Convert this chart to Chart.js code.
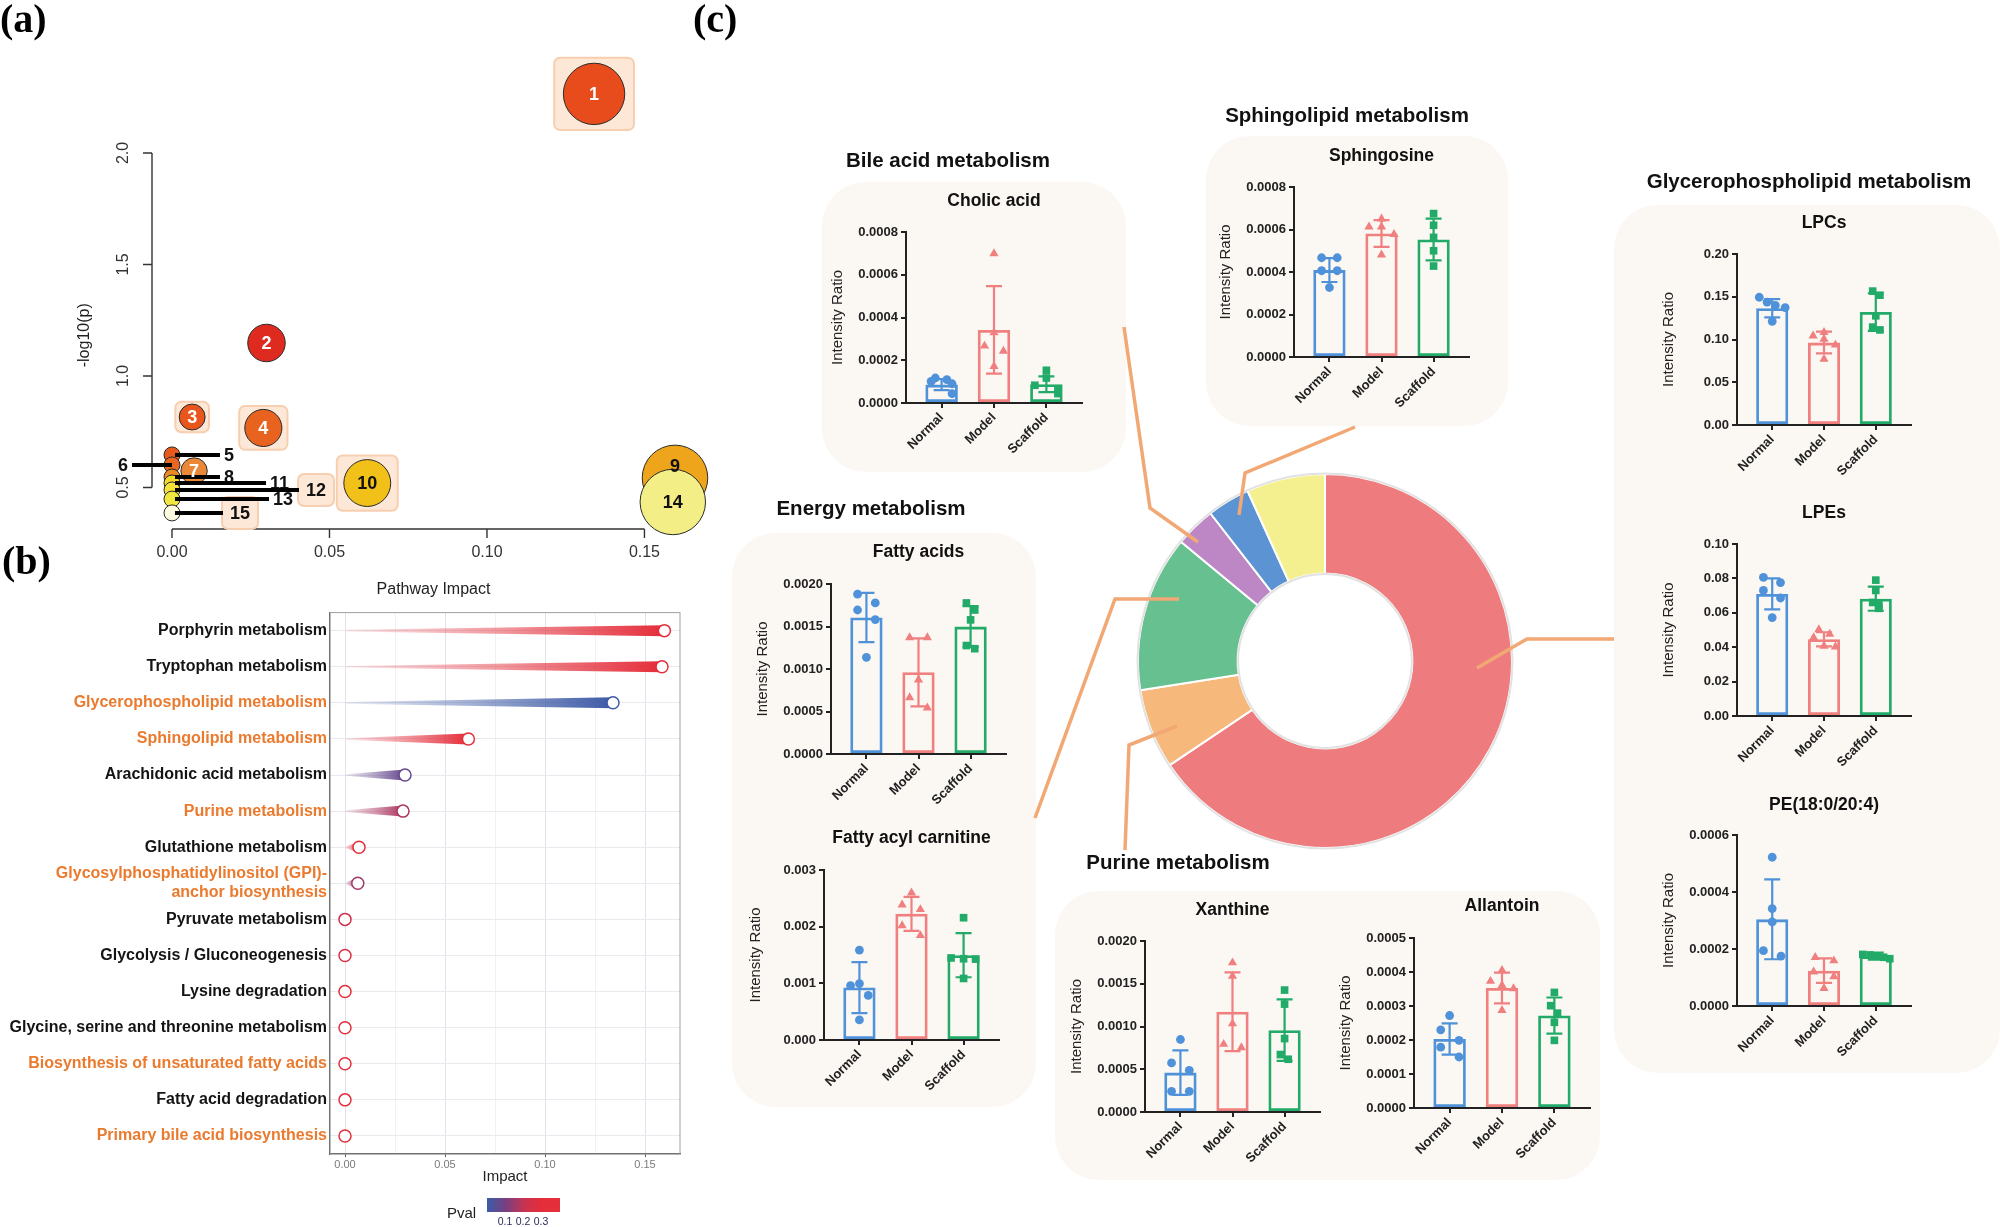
<!DOCTYPE html>
<html>
<head>
<meta charset="utf-8">
<title>Pathway analysis</title>
<script src="https://cdn.jsdelivr.net/npm/chart.js@4.4.1/dist/chart.umd.min.js"></script>
<style>
  html, body { margin: 0; padding: 0; background: #fff; }
  #fig { position: relative; width: 2000px; height: 1227px; overflow: hidden; font-family: 'Liberation Sans', Arial, sans-serif; }
  .box { position: absolute; background: #fbf7f2; border-radius: 44px; z-index: 0; }
  .sec { position: absolute; transform: translate(-50%, -50%); font-weight: bold; font-size: 20.5px; color: #111; white-space: nowrap; z-index: 3; }
  .tag { position: absolute; font-family: 'Liberation Serif', 'Times New Roman', serif; font-weight: bold; font-size: 40px; line-height: 1; z-index: 3; }
  canvas { position: absolute; z-index: 1; }
  #links { position: absolute; left: 0; top: 0; z-index: 2; pointer-events: none; }
  .leg { position: absolute; z-index: 3; color: #222; white-space: nowrap; }
</style>
</head>
<body>
<div id="fig">
  <div class="tag" style="left:0;top:-1px">(a)</div>
  <div class="tag" style="left:2px;top:541px">(b)</div>
  <div class="tag" style="left:693px;top:-1px">(c)</div>

  <div class="box" style="left:822px;top:182px;width:304px;height:290px"></div>
  <div class="box" style="left:1206px;top:136px;width:302px;height:290px"></div>
  <div class="box" style="left:732px;top:533px;width:304px;height:574px"></div>
  <div class="box" style="left:1055px;top:891px;width:545px;height:289px"></div>
  <div class="box" style="left:1614px;top:205px;width:386px;height:868px"></div>

  <div class="sec" style="left:948px;top:160px">Bile acid metabolism</div>
  <div class="sec" style="left:1347px;top:115px">Sphingolipid metabolism</div>
  <div class="sec" style="left:871px;top:508px">Energy metabolism</div>
  <div class="sec" style="left:1178px;top:862px">Purine metabolism</div>
  <div class="sec" style="left:1809px;top:181px">Glycerophospholipid metabolism</div>

  <svg id="links" width="2000" height="1227">
    <g fill="none" stroke="#f2a874" stroke-width="3.5">
      <polyline points="1477,668 1527,639 1614,639"/>
      <polyline points="1179,599 1115,599 1035,818"/>
      <polyline points="1177,726 1129,745 1125,850"/>
      <polyline points="1198,542 1150,508 1124,327"/>
      <polyline points="1239,515 1245,473 1355,427"/>
    </g>
  </svg>

  <div class="leg" style="left:447px;top:1204px;font-size:15px">Pval</div>
  <div id="pbar" class="leg" style="left:487px;top:1198px;width:73px;height:14px"></div>
  <div class="leg" style="left:505px;top:1215px;font-size:10.5px;color:#2c2c5a;transform:translateX(-50%)">0.1</div>
  <div class="leg" style="left:523px;top:1215px;font-size:10.5px;color:#2c2c5a;transform:translateX(-50%)">0.2</div>
  <div class="leg" style="left:541px;top:1215px;font-size:10.5px;color:#2c2c5a;transform:translateX(-50%)">0.3</div>
</div>

<script>
// ---------- panel (a): pathway topology, numbered bubbles ----------
const A_IDS = [1, 2, 3, 4, 5, 6, 7, 8, 9, 10, 11, 12, 13, 14, 15];
const A_IMPACT = [0.134, 0.030, 0.0064, 0.029, 0, 0, 0.007, 0, 0.1597, 0.062, 0, 0, 0, 0.159, 0];
const A_LOGP = [2.265, 1.148, 0.816, 0.767, 0.646, 0.601, 0.574, 0.547, 0.543, 0.520, 0.520, 0.489, 0.448, 0.435, 0.386];
const A_XTICKS = [0, 0.05, 0.10, 0.15];
const A_YTICKS = [0.5, 1.0, 1.5, 2.0];

// ---------- panel (b): impact lollipops ----------
const B_PATHWAYS = [
  'Porphyrin metabolism', 'Tryptophan metabolism', 'Glycerophospholipid metabolism',
  'Sphingolipid metabolism', 'Arachidonic acid metabolism', 'Purine metabolism',
  'Glutathione metabolism', ['Glycosylphosphatidylinositol (GPI)-', 'anchor biosynthesis'],
  'Pyruvate metabolism', 'Glycolysis / Gluconeogenesis', 'Lysine degradation',
  'Glycine, serine and threonine metabolism', 'Biosynthesis of unsaturated fatty acids',
  'Fatty acid degradation', 'Primary bile acid biosynthesis'
];
const B_IMPACT = [0.1597, 0.1585, 0.134, 0.0617, 0.030, 0.029, 0.007, 0.0064, 0, 0, 0, 0, 0, 0, 0];
const B_PVAL = [0.286, 0.367, 0.0054, 0.30, 0.071, 0.17, 0.27, 0.153, 0.226, 0.25, 0.284, 0.30, 0.324, 0.356, 0.41];
const B_XTICKS = [0, 0.025, 0.05, 0.075, 0.10, 0.125, 0.15];
const B_ORANGE = ['Glycerophospholipid metabolism', 'Sphingolipid metabolism', 'Purine metabolism',
  'Glycosylphosphatidylinositol (GPI)- anchor biosynthesis', 'Biosynthesis of unsaturated fatty acids',
  'Primary bile acid biosynthesis'];

// ---------- panel (c): class share donut ----------
const C_CLASSES = ['Glycerophospholipid metabolism', 'Purine metabolism', 'Energy metabolism',
  'Bile acid metabolism', 'Sphingolipid metabolism', 'Others'];
const C_SHARE = [65.6, 6.9, 13.5, 3.5, 3.7, 6.8];

// ---------- panel (c): metabolite bar charts (mean, SD, individual samples) ----------
const GROUPS = ['Normal', 'Model', 'Scaffold'];

const CHOLIC_MEAN = [0.000086, 0.000342, 0.000088];
const CHOLIC_SD = [0.000026, 0.000205, 0.000037];
const CHOLIC_PTS = [[0.000117, 0.000109, 0.000101, 0.000090, 0.000044],
                    [0.000699, 0.000329, 0.000267, 0.000243, 0.000172],
                    [0.000153, 0.000117, 0.000083, 0.000062, 0.000044]];
const CHOLIC_JIT = [[-0.12, 0.1, -0.2, 0.2, 0.2], [0, 0, -0.18, 0.18, 0], [0, 0, -0.22, 0.22, 0.22]];

const SPHING_MEAN = [0.000409, 0.000581, 0.000553];
const SPHING_SD = [0.000056, 0.000063, 0.000098];
const SPHING_PTS = [[0.000467, 0.000467, 0.000406, 0.000406, 0.000327],
                    [0.00065, 0.000613, 0.000613, 0.000577, 0.000481],
                    [0.000675, 0.00062, 0.000563, 0.0005, 0.000428]];
const SPHING_JIT = [[-0.15, 0.15, -0.15, 0.15, 0], [0, -0.24, 0, 0.24, 0], [0, 0, 0, 0, 0]];

const FA_MEAN = [0.001606, 0.000961, 0.001499];
const FA_SD = [0.00029, 0.00040, 0.00024];
const FA_PTS = [[0.00188, 0.001777, 0.001694, 0.001582, 0.001137],
                [0.001369, 0.001369, 0.000872, 0.000664, 0.000543],
                [0.001777, 0.001694, 0.001578, 0.001276, 0.001239]];
const FA_JIT = [[-0.17, 0.17, -0.17, 0.17, 0], [-0.17, 0.17, 0, -0.17, 0.17], [-0.08, 0.08, 0, -0.08, 0.08]];

const FAC_MEAN = [0.000926, 0.002227, 0.001497];
const FAC_SD = [0.00045, 0.00030, 0.00039];
const FAC_PTS = [[0.001587, 0.00096, 0.000995, 0.000787, 0.000355],
                 [0.002596, 0.002387, 0.002304, 0.002019, 0.001845],
                 [0.002158, 0.001448, 0.001434, 0.001427, 0.001086]];
const FAC_JIT = [[0, -0.17, 0, 0.17, 0], [0, -0.18, 0.17, -0.18, 0.17], [0, -0.24, 0, 0.23, 0]];

const XAN_MEAN = [0.000461, 0.001172, 0.000957];
const XAN_SD = [0.00026, 0.00046, 0.00036];
const XAN_PTS = [[0.000848, 0.000574, 0.000488, 0.000242, 0.000242],
                 [0.001746, 0.00159, 0.001035, 0.000793, 0.000754],
                 [0.001426, 0.001262, 0.000859, 0.000672, 0.000617]];
const XAN_JIT = [[0, -0.17, 0.17, -0.17, 0.17], [0, 0, 0, -0.17, 0.17], [0, 0, 0, -0.08, 0.07]];

const ALL_MEAN = [0.000203, 0.000353, 0.000272];
const ALL_SD = [0.000046, 0.000045, 0.000053];
const ALL_PTS = [[0.000272, 0.00023, 0.000199, 0.000179, 0.00015],
                 [0.000405, 0.000373, 0.000361, 0.000351, 0.000287],
                 [0.00034, 0.000301, 0.000279, 0.000252, 0.000199]];
const ALL_JIT = [[0, -0.17, 0.18, -0.17, 0.18], [0, -0.22, 0, 0.22, 0], [0, -0.07, 0.06, 0, 0]];

const LPC_MEAN = [0.1365, 0.0964, 0.1321];
const LPC_SD = [0.0107, 0.0127, 0.0220];
const LPC_PTS = [[0.1494, 0.1438, 0.1398, 0.1373, 0.1213],
                 [0.1084, 0.1044, 0.1004, 0.0936, 0.0771],
                 [0.1566, 0.1518, 0.1277, 0.1145, 0.1112]];
const LPC_JIT = [[-0.25, -0.1, 0.06, 0.25, 0], [0, -0.21, 0, 0.22, 0], [-0.06, 0.08, 0, -0.06, 0.08]];

const LPE_MEAN = [0.071, 0.0446, 0.0682];
const LPE_SD = [0.009, 0.0041, 0.007];
const LPE_PTS = [[0.0806, 0.0776, 0.073, 0.0686, 0.0572],
                 [0.0502, 0.0476, 0.0456, 0.0406, 0.0402],
                 [0.079, 0.073, 0.066, 0.0646, 0.0626]];
const LPE_JIT = [[-0.17, 0.16, -0.17, 0.16, 0], [-0.1, 0.11, -0.2, 0, 0.22], [0, 0, -0.06, 0.06, 0.06]];

const PE_MEAN = [0.000304, 0.000124, 0.000175];
const PE_SD = [0.00014, 0.000043, 0.000012];
const PE_PTS = [[0.000522, 0.000342, 0.000295, 0.000194, 0.000175],
                [0.000171, 0.000159, 0.00012, 0.000103, 0.000062],
                [0.000181, 0.000179, 0.000175, 0.000171, 0.000166]];
const PE_JIT = [[0, 0, 0, -0.17, 0.17], [-0.17, 0.19, -0.2, 0.19, 0], [-0.25, -0.11, 0.02, 0.15, 0.27]];

// ---------- styles ----------
const A_FILL = ['#e84c1c', '#df2a20', '#e8561e', '#e8631f', '#e75a1e', '#e8681f', '#eb8838', '#ec8a24',
  '#eea51c', '#f1c11a', '#f4d92a', '#f4e33a', '#efe63e', '#f3ee86', '#fdfae0'];
const A_INSIDE = { 1: '#fff', 2: '#fff', 3: '#fff', 4: '#fff', 7: '#fff', 9: '#111', 10: '#111', 14: '#111' };
const A_INSIDE_DY = { 9: -12 };
const A_BOXED = [1, 3, 4, 10];
const A_LEADER = { 5: 48, 6: -40, 8: 48, 11: 94, 12: 127, 13: 97, 15: 51 };
const A_LEADER_BOXED = [12, 15];

const P_STOPS = [[0, [58, 92, 168]], [0.1, [118, 64, 130]], [0.2, [196, 52, 84]], [0.28, [228, 46, 58]]];
const C_COLORS = ['#ee7b7d', '#f6b87b', '#66c08f', '#bd87c6', '#5b93d3', '#f5f08f'];
const GROUP_COLORS = ['#4f92d9', '#f07f80', '#22ab68'];
const GROUP_SHAPES = ['circle', 'triangle', 'rect'];
const GROUP_RADIUS = [4.4, 5.3, 5.4];

Chart.defaults.font.family = "'Liberation Sans', Arial, sans-serif";
Chart.defaults.color = '#222';

function pvalColor(p, a) {
  let c = P_STOPS[P_STOPS.length - 1][1];
  for (let i = 0; i < P_STOPS.length - 1; i++) {
    const [p0, c0] = P_STOPS[i], [p1, c1] = P_STOPS[i + 1];
    if (p <= p1) {
      const t = Math.max(0, (p - p0) / (p1 - p0));
      c = c0.map((v, k) => Math.round(v + (c1[k] - v) * t));
      break;
    }
  }
  return `rgba(${c[0]},${c[1]},${c[2]},${a})`;
}

function addCanvas(left, top, w, h) {
  const cv = document.createElement('canvas');
  cv.width = w; cv.height = h;
  cv.style.left = left + 'px'; cv.style.top = top + 'px';
  cv.style.width = w + 'px'; cv.style.height = h + 'px';
  document.getElementById('fig').appendChild(cv);
  return cv;
}

function roundRect(ctx, x, y, w, h, r) {
  ctx.beginPath();
  ctx.moveTo(x + r, y);
  ctx.arcTo(x + w, y, x + w, y + h, r);
  ctx.arcTo(x + w, y + h, x, y + h, r);
  ctx.arcTo(x, y + h, x, y, r);
  ctx.arcTo(x, y, x + w, y, r);
  ctx.closePath();
}

// keep the plot area where the axis sizes put it
function noSidePadding(s) { s.paddingLeft = 0; s.paddingRight = 0; }

const noInteract = { responsive: false, animation: false, events: [] };

// ---------- panel (a) ----------
// R-style axes: the lines only span the first to last tick
const rAxis = {
  id: 'rAxis',
  beforeDatasetsDraw(chart) {
    const { ctx, chartArea: ca, scales: { x, y } } = chart;
    const xs = x.ticks.map(t => x.getPixelForValue(t.value));
    const ys = y.ticks.map(t => y.getPixelForValue(t.value));
    ctx.save();
    ctx.strokeStyle = '#333';
    ctx.lineWidth = 1.4;
    ctx.beginPath();
    ctx.moveTo(xs[0], ca.bottom); ctx.lineTo(xs[xs.length - 1], ca.bottom);
    xs.forEach(p => { ctx.moveTo(p, ca.bottom); ctx.lineTo(p, ca.bottom + 9); });
    ctx.moveTo(ca.left, ys[0]); ctx.lineTo(ca.left, ys[ys.length - 1]);
    ys.forEach(p => { ctx.moveTo(ca.left, p); ctx.lineTo(ca.left - 9, p); });
    ctx.stroke();
    // y axis title, centred on the tick span like R does
    ctx.translate(85, (ys[0] + ys[ys.length - 1]) / 2 + 15);
    ctx.rotate(-Math.PI / 2);
    ctx.fillStyle = '#222';
    ctx.font = "16px 'Liberation Sans', Arial, sans-serif";
    ctx.textAlign = 'center';
    ctx.textBaseline = 'middle';
    ctx.fillText('-log10(p)', 0, 0);
    ctx.restore();
  }
};

const bubbleLabels = {
  id: 'bubbleLabels',
  beforeDatasetsDraw(chart) {
    const { ctx } = chart;
    const pts = chart.getDatasetMeta(0).data;
    ctx.save();
    ctx.fillStyle = '#fde7d6';
    ctx.strokeStyle = '#f7cfb0';
    ctx.lineWidth = 2;
    A_BOXED.forEach(id => {
      const p = pts[id - 1], r = p.options.radius;
      roundRect(ctx, p.x - 1.3 * r, p.y - 1.18 * r, 2.6 * r, 2.36 * r, 6);
      ctx.fill(); ctx.stroke();
    });
    ctx.font = "bold 18px 'Liberation Sans', Arial, sans-serif";
    A_LEADER_BOXED.forEach(id => {
      const p = pts[id - 1], len = A_LEADER[id];
      const w = ctx.measureText(String(id)).width + 16;
      roundRect(ctx, p.x + len - 1, p.y - 16, w, 32, 6);
      ctx.fill(); ctx.stroke();
    });
    ctx.restore();
  },
  afterDatasetsDraw(chart) {
    const { ctx } = chart;
    const pts = chart.getDatasetMeta(0).data;
    ctx.save();
    ctx.font = "bold 18px 'Liberation Sans', Arial, sans-serif";
    ctx.textBaseline = 'middle';
    ctx.strokeStyle = '#000';
    ctx.lineWidth = 4;
    Object.keys(A_LEADER).forEach(k => {
      const id = +k, p = pts[id - 1], len = A_LEADER[id];
      ctx.beginPath();
      if (len > 0) { ctx.moveTo(p.x + 3, p.y); ctx.lineTo(p.x + len, p.y); }
      else { ctx.moveTo(p.x + len, p.y); ctx.lineTo(p.x, p.y); }
      ctx.stroke();
      ctx.fillStyle = '#111';
      ctx.textAlign = len > 0 ? 'left' : 'right';
      const off = A_LEADER_BOXED.includes(id) ? 7 : 4;
      ctx.fillText(String(id), p.x + len + (len > 0 ? off : -off), p.y + 1);
    });
    ctx.textAlign = 'center';
    Object.keys(A_INSIDE).forEach(k => {
      const id = +k, p = pts[id - 1];
      ctx.fillStyle = A_INSIDE[id];
      ctx.fillText(String(id), p.x, p.y + 1 + (A_INSIDE_DY[id] || 0));
    });
    ctx.restore();
  }
};

new Chart(addCanvas(0, 0, 720, 600), {
  type: 'scatter',
  data: {
    labels: A_IDS,
    datasets: [{
      data: A_IMPACT.map((v, i) => ({ x: v, y: A_LOGP[i] })),
      pointRadius: ctx => 8 + 62 * Math.sqrt(A_IMPACT[ctx.dataIndex]),
      pointBackgroundColor: A_FILL,
      pointBorderColor: '#2a2a2a',
      pointBorderWidth: 1,
      clip: false
    }]
  },
  options: {
    ...noInteract,
    layout: { autoPadding: false, padding: { top: 40, right: 5 } },
    plugins: { legend: { display: false }, tooltip: { enabled: false } },
    scales: {
      x: {
        type: 'linear', min: -0.00635, max: 0.1724,
        afterBuildTicks: s => { s.ticks = A_XTICKS.map(v => ({ value: v })); },
        afterFit: s => { s.height = 71; noSidePadding(s); },
        grid: { display: false, drawTicks: false },
        border: { display: false },
        ticks: { callback: v => v.toFixed(2), font: { size: 16 }, color: '#333', padding: 14, maxRotation: 0, autoSkip: false },
        title: { display: true, text: 'Pathway Impact', font: { size: 16 }, color: '#222', padding: { top: 0, bottom: 1 } }
      },
      y: {
        type: 'linear', min: 0.3139, max: 2.5067,
        afterBuildTicks: s => { s.ticks = A_YTICKS.map(v => ({ value: v })); },
        afterFit: s => { s.width = 152; },
        grid: { display: false, drawTicks: false },
        border: { display: false },
        ticks: { callback: v => v.toFixed(1), font: { size: 16 }, color: '#333', padding: 17,
                 minRotation: 90, maxRotation: 90, crossAlign: 'center', autoSkip: false }
      }
    }
  },
  plugins: [rAxis, bubbleLabels]
});

// ---------- panel (b) ----------
const comet = {
  id: 'comet',
  beforeDatasetsDraw(chart) {
    const { ctx } = chart;
    ctx.save();
    chart.getDatasetMeta(0).data.forEach((bar, i) => {
      const x0 = bar.base, x1 = bar.x, y = bar.y;
      if (x1 - x0 < 1) return;
      const g = ctx.createLinearGradient(x0, 0, x1, 0);
      g.addColorStop(0, pvalColor(B_PVAL[i], 0.1));
      g.addColorStop(0.5, pvalColor(B_PVAL[i], 0.5));
      g.addColorStop(1, pvalColor(B_PVAL[i], 1));
      ctx.fillStyle = g;
      ctx.beginPath();
      ctx.moveTo(x0, y - 0.8); ctx.lineTo(x1, y - 5.5);
      ctx.lineTo(x1, y + 5.5); ctx.lineTo(x0, y + 0.8);
      ctx.closePath();
      ctx.fill();
    });
    ctx.restore();
  }
};

const frame = {
  id: 'frame',
  beforeDatasetsDraw(chart) {
    const { ctx, chartArea: a } = chart;
    ctx.save();
    ctx.strokeStyle = '#a0a0a0';
    ctx.lineWidth = 1;
    ctx.strokeRect(a.left, a.top, a.right - a.left, a.bottom - a.top);
    ctx.restore();
  }
};

const labelText = i => [].concat(B_PATHWAYS[i]).join(' ');

new Chart(addCanvas(0, 600, 700, 627), {
  type: 'bar',
  data: {
    labels: B_PATHWAYS,
    datasets: [
      { data: B_IMPACT, backgroundColor: 'rgba(0,0,0,0)', borderWidth: 0, barThickness: 10, order: 2 },
      { type: 'line', indexAxis: 'y', data: B_IMPACT, showLine: false, pointRadius: 6,
        pointBackgroundColor: '#fff', pointBorderColor: B_PVAL.map(p => pvalColor(p, 1)),
        pointBorderWidth: 1.5, order: 1, clip: false }
    ]
  },
  options: {
    ...noInteract,
    indexAxis: 'y',
    layout: { autoPadding: false, padding: { top: 12, right: 20 } },
    plugins: { legend: { display: false }, tooltip: { enabled: false } },
    scales: {
      x: {
        type: 'linear', min: -0.0075, max: 0.1675,
        afterBuildTicks: s => { s.ticks = B_XTICKS.map(v => ({ value: v })); },
        afterFit: s => { s.height = 73; noSidePadding(s); },
        grid: { color: c => c.index % 2 ? '#f0f0f5' : '#e2e2ea', tickColor: c => c.index % 2 ? 'rgba(0,0,0,0)' : '#555', tickLength: 3 },
        border: { color: '#444', width: 1.2 },
        ticks: { callback: (v, i) => i % 2 ? '' : v.toFixed(2), font: { size: 11 }, color: '#7a7a7a', padding: 1, maxRotation: 0, autoSkip: false },
        title: { display: true, text: 'Impact', font: { size: 15 }, color: '#222', padding: { top: 0, bottom: 41 } }
      },
      y: {
        afterFit: s => { s.width = 330; },
        grid: { offset: false, color: '#e9e9ef', drawTicks: false },
        border: { color: '#444', width: 1.2 },
        ticks: { font: { size: 16, weight: 'bold' }, padding: 3, autoSkip: false,
                 color: c => B_ORANGE.includes(labelText(c.index)) ? '#ea7a2e' : '#141414' }
      }
    }
  },
  plugins: [frame, comet]
});

document.getElementById('pbar').style.background =
  'linear-gradient(to right,' + [0, 0.05, 0.1, 0.15, 0.2, 0.25, 0.3, 0.35, 0.4].map(p => pvalColor(p, 1)).join(',') + ')';

// ---------- panel (c): donut ----------
const ringOutline = {
  id: 'ringOutline',
  afterDatasetsDraw(chart) {
    const { ctx } = chart;
    const arc = chart.getDatasetMeta(0).data[0];
    ctx.save();
    ctx.strokeStyle = '#e2e2e2';
    ctx.lineWidth = 2;
    ctx.beginPath(); ctx.arc(arc.x, arc.y, arc.outerRadius + 0.5, 0, Math.PI * 2); ctx.stroke();
    ctx.beginPath(); ctx.arc(arc.x, arc.y, arc.innerRadius - 0.5, 0, Math.PI * 2); ctx.stroke();
    ctx.restore();
  }
};

new Chart(addCanvas(1125, 461, 400, 400), {
  type: 'doughnut',
  data: {
    labels: C_CLASSES,
    datasets: [{ data: C_SHARE, backgroundColor: C_COLORS, borderColor: '#fff', borderWidth: 2,
                 radius: 187, cutout: 93, hoverOffset: 0 }]
  },
  options: { ...noInteract, plugins: { legend: { display: false }, tooltip: { enabled: false } } },
  plugins: [ringOutline]
});

// ---------- panel (c): bar charts ----------
const SUBCHARTS = [
  { title: 'Cholic acid', mean: CHOLIC_MEAN, sd: CHOLIC_SD, pts: CHOLIC_PTS, jit: CHOLIC_JIT, max: 0.0008, step: 0.0002, dec: 4, ax: 906, top: 232, right: 1082, bottom: 403, ty: 203 },
  { title: 'Sphingosine', mean: SPHING_MEAN, sd: SPHING_SD, pts: SPHING_PTS, jit: SPHING_JIT, max: 0.0008, step: 0.0002, dec: 4, ax: 1294, top: 187, right: 1469, bottom: 357, ty: 158 },
  { title: 'Fatty acids', mean: FA_MEAN, sd: FA_SD, pts: FA_PTS, jit: FA_JIT, max: 0.002, step: 0.0005, dec: 4, ax: 831, top: 584, right: 1006, bottom: 754, ty: 554 },
  { title: 'Fatty acyl carnitine', mean: FAC_MEAN, sd: FAC_SD, pts: FAC_PTS, jit: FAC_JIT, max: 0.003, step: 0.001, dec: 3, ax: 824, top: 870, right: 999, bottom: 1040, ty: 840 },
  { title: 'Xanthine', mean: XAN_MEAN, sd: XAN_SD, pts: XAN_PTS, jit: XAN_JIT, max: 0.002, step: 0.0005, dec: 4, ax: 1145, top: 941, right: 1320, bottom: 1112, ty: 912 },
  { title: 'Allantoin', mean: ALL_MEAN, sd: ALL_SD, pts: ALL_PTS, jit: ALL_JIT, max: 0.0005, step: 0.0001, dec: 4, ax: 1414, top: 938, right: 1590, bottom: 1108, ty: 908 },
  { title: 'LPCs', mean: LPC_MEAN, sd: LPC_SD, pts: LPC_PTS, jit: LPC_JIT, max: 0.2, step: 0.05, dec: 2, ax: 1737, top: 254, right: 1911, bottom: 425, ty: 225 },
  { title: 'LPEs', mean: LPE_MEAN, sd: LPE_SD, pts: LPE_PTS, jit: LPE_JIT, max: 0.1, step: 0.02, dec: 2, ax: 1737, top: 544, right: 1911, bottom: 716, ty: 515 },
  { title: 'PE(18:0/20:4)', mean: PE_MEAN, sd: PE_SD, pts: PE_PTS, jit: PE_JIT, max: 0.0006, step: 0.0002, dec: 4, ax: 1737, top: 835, right: 1911, bottom: 1006, ty: 807 }
];

function barChart(c) {
  const left = c.ax - 84, top = c.ty - 12;
  const w = c.right - c.ax + 90, h = c.bottom - top + 64;
  const titleFont = 17.5, titleLH = titleFont * 1.2;

  const datasets = [{
    type: 'bar',
    data: c.mean.map((m, i) => ({ x: i, y: m })),
    backgroundColor: 'rgba(0,0,0,0)',
    borderColor: GROUP_COLORS,
    borderWidth: 2.8,
    borderSkipped: false,
    barPercentage: 0.62,
    categoryPercentage: 1,
    order: 2
  }];
  c.pts.forEach((arr, g) => datasets.push({
    type: 'scatter',
    data: arr.map((v, k) => ({ x: g + c.jit[g][k], y: v })),
    pointStyle: GROUP_SHAPES[g],
    pointRadius: GROUP_RADIUS[g],
    backgroundColor: GROUP_COLORS[g],
    borderColor: GROUP_COLORS[g],
    borderWidth: 0,
    order: 1,
    clip: false
  }));

  const errorBars = {
    id: 'errorBars',
    afterDatasetsDraw(chart) {
      const { ctx, scales: { x, y } } = chart;
      ctx.save();
      ctx.lineWidth = 2.2;
      c.mean.forEach((m, i) => {
        const px = x.getPixelForValue(i);
        const yt = y.getPixelForValue(m + c.sd[i]);
        const yb = y.getPixelForValue(m - c.sd[i]);
        ctx.strokeStyle = GROUP_COLORS[i];
        ctx.beginPath();
        ctx.moveTo(px, yt); ctx.lineTo(px, yb);
        ctx.moveTo(px - 8, yt); ctx.lineTo(px + 8, yt);
        ctx.moveTo(px - 8, yb); ctx.lineTo(px + 8, yb);
        ctx.stroke();
      });
      ctx.restore();
    }
  };

  new Chart(addCanvas(left, top, w, h), {
    type: 'bar',
    data: { datasets },
    options: {
      ...noInteract,
      layout: { autoPadding: false, padding: { right: 6 } },
      plugins: {
        legend: { display: false }, tooltip: { enabled: false },
        title: { display: true, text: c.title, fullSize: false, color: '#111',
                 font: { size: titleFont, weight: 'bold' },
                 padding: { top: 0, bottom: c.top - top - titleLH } }
      },
      scales: {
        x: {
          type: 'linear', min: -0.68, max: 2.68, offset: false,
          afterBuildTicks: s => { s.ticks = GROUPS.map((g, i) => ({ value: i })); },
          afterFit: s => { s.height = 64; noSidePadding(s); },
          grid: { display: true, drawOnChartArea: false, offset: false, tickLength: 5, lineWidth: 2, color: '#222' },
          border: { color: '#222', width: 2 },
          ticks: { callback: v => GROUPS[v], font: { size: 13, weight: 'bold' }, color: '#222',
                   minRotation: 45, maxRotation: 45, padding: 2, autoSkip: false }
        },
        y: {
          type: 'linear', min: 0, max: c.max,
          afterFit: s => { s.width = 84; },
          grid: { display: true, drawOnChartArea: false, tickLength: 5, lineWidth: 2, color: '#222' },
          border: { color: '#222', width: 2 },
          ticks: { stepSize: c.step, callback: v => v.toFixed(c.dec), font: { size: 13, weight: 'bold' }, color: '#222', padding: 3 },
          title: { display: true, text: 'Intensity Ratio', font: { size: 15 }, color: '#222', padding: { top: 7, bottom: 0 } }
        }
      }
    },
    plugins: [errorBars]
  });
}

SUBCHARTS.forEach(barChart);
</script>
</body>
</html>
